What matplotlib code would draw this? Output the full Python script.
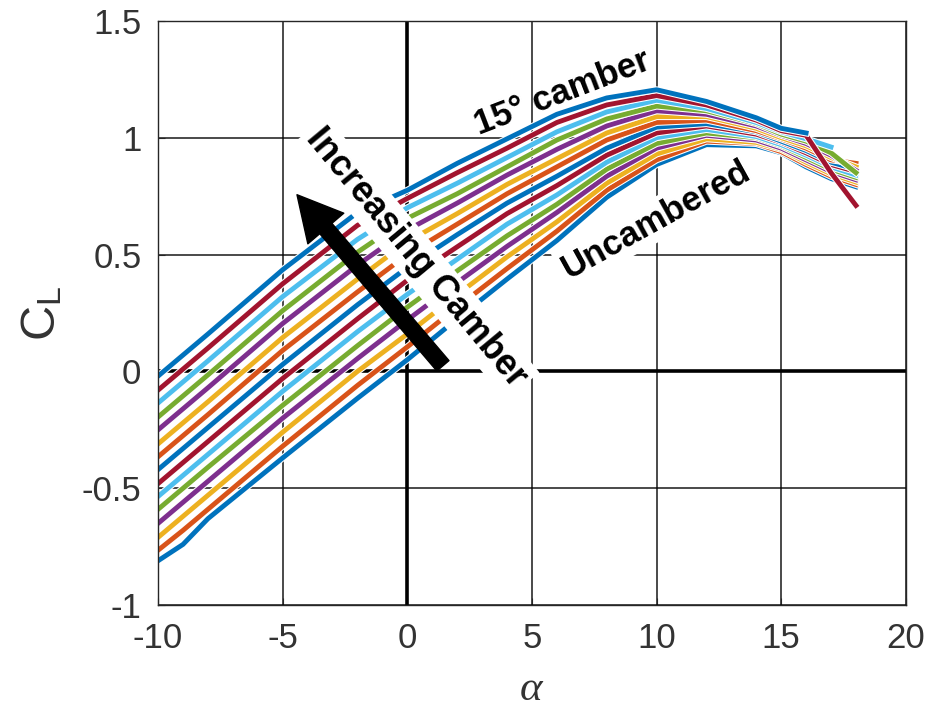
import numpy as np
import matplotlib
matplotlib.use("Agg")
import matplotlib.pyplot as plt
import matplotlib.patheffects as pe
from matplotlib.patches import FancyArrowPatch

# angle of attack (deg)
alpha = [-10, -9, -8, -5, -2, 0, 2, 4, 6, 8, 10, 12, 14, 15, 16, 17, 18]

# lift coefficient, one list per camber (bottom = uncambered, top = 15 deg camber)
cl_00 = [-0.81, -0.74, -0.63, -0.37, -0.115, 0.05, 0.225, 0.395, 0.56, 0.745, 0.885, 0.97, 0.965, 0.935, 0.875, 0.825, 0.79]
cl_01 = [-0.765, -0.68, -0.59, -0.32, -0.06, 0.105, 0.275, 0.44, 0.60, 0.775, 0.905, 0.985, 0.975, 0.94, 0.885, 0.835, 0.80]
cl_02 = [-0.71, -0.62, -0.53, -0.26, 0.0, 0.16, 0.328, 0.49, 0.64, 0.805, 0.93, 0.995, 0.98, 0.95, 0.895, 0.845, 0.81]
cl_03 = [-0.65, -0.56, -0.47, -0.20, 0.055, 0.22, 0.38, 0.535, 0.68, 0.835, 0.955, 1.01, 0.99, 0.955, 0.905, 0.855, 0.82]
cl_04 = [-0.59, -0.50, -0.41, -0.145, 0.11, 0.275, 0.43, 0.58, 0.715, 0.865, 0.975, 1.02, 1.0, 0.965, 0.915, 0.865, 0.83]
cl_05 = [-0.535, -0.445, -0.355, -0.085, 0.17, 0.33, 0.48, 0.63, 0.755, 0.895, 1.0, 1.035, 1.005, 0.97, 0.925, 0.875, 0.84]
cl_06 = [-0.48, -0.39, -0.30, -0.03, 0.225, 0.39, 0.533, 0.675, 0.795, 0.925, 1.02, 1.05, 1.015, 0.98, 0.935, 0.885, 0.855]
cl_07 = [-0.42, -0.33, -0.24, 0.03, 0.285, 0.445, 0.585, 0.72, 0.835, 0.955, 1.045, 1.06, 1.025, 0.985, 0.945, 0.895, 0.865]
cl_08 = [-0.365, -0.275, -0.185, 0.09, 0.34, 0.50, 0.63, 0.76, 0.875, 0.99, 1.065, 1.075, 1.03, 0.995, 0.955, 0.905, 0.89]
cl_09 = [-0.31, -0.22, -0.13, 0.145, 0.395, 0.555, 0.675, 0.80, 0.91, 1.02, 1.09, 1.09, 1.04, 1.0, 0.965, 0.915, 0.875]
cl_10 = [-0.25, -0.16, -0.07, 0.205, 0.455, 0.605, 0.72, 0.84, 0.95, 1.05, 1.115, 1.10, 1.05, 1.01, 0.975, 0.925, 0.86]
cl_11 = [-0.195, -0.105, -0.015, 0.26, 0.51, 0.655, 0.76, 0.875, 0.99, 1.08, 1.135, 1.115, 1.06, 1.015, 0.985, 0.935, 0.85]
cl_12 = [-0.135, -0.045, 0.045, 0.32, 0.565, 0.70, 0.805, 0.915, 1.025, 1.11, 1.16, 1.125, 1.065, 1.025, 0.995, 0.96, None]
cl_13 = [-0.08, 0.01, 0.10, 0.375, 0.625, 0.74, 0.85, 0.955, 1.065, 1.14, 1.18, 1.14, 1.075, 1.03, 1.01, 0.85, 0.71]
cl_14 = [-0.02, 0.07, 0.16, 0.435, 0.68, 0.775, 0.89, 0.995, 1.10, 1.17, 1.205, 1.155, 1.085, 1.04, 1.02, None, None]

curvas = [cl_00, cl_01, cl_02, cl_03, cl_04, cl_05, cl_06, cl_07,
          cl_08, cl_09, cl_10, cl_11, cl_12, cl_13, cl_14]

# cores por defeito do matlab
cores = ["#0072BD", "#D95319", "#EDB120", "#7E2F8E", "#77AC30", "#4DBEEE", "#A2142F"]

plt.rcParams["font.family"] = ["Liberation Sans", "DejaVu Sans"]
plt.rcParams["mathtext.fontset"] = "custom"
plt.rcParams["mathtext.rm"] = "Liberation Sans"
plt.rcParams["mathtext.it"] = "Liberation Serif:italic"

fig = plt.figure(figsize=(9.3, 7.17), dpi=100)
ax = fig.add_axes([0.170, 0.156, 0.804, 0.815])

ax.grid(True, color="black", linewidth=1.1, alpha=0.9)
ax.set_axisbelow(True)
ax.axhline(0, color="black", linewidth=2.6, zorder=1.5)
ax.axvline(0, color="black", linewidth=2.6, zorder=1.5)

halo = [pe.Stroke(linewidth=5.0, foreground="white"), pe.Normal()]
for i, cl in enumerate(curvas):
    y = np.array(cl, dtype=float)
    ax.plot(alpha, y, color=cores[i % len(cores)], linewidth=3.5,
            solid_joinstyle="round", path_effects=halo, zorder=2 + i * 0.01)

ax.set_xlim(-10, 20)
ax.set_ylim(-1, 1.5)
ax.set_xticks([-10, -5, 0, 5, 10, 15, 20])
ax.set_yticks([-1, -0.5, 0, 0.5, 1, 1.5])
ax.set_yticklabels(["-1", "-0.5", "0", "0.5", "1", "1.5"])
ax.set_xticklabels(["-10", "-5", "0", "5", "10", "15", "20"])
ax.tick_params(direction="in", length=5, labelsize=25, labelcolor="#333333",
               color="#262626", pad=12)
for s in ax.spines.values():
    s.set_color("#262626")
    s.set_linewidth(1.0)

ax.set_xlabel(r"$\alpha$", fontsize=31, color="#333333", labelpad=10)
ax.set_ylabel(r"C$_{\mathrm{L}}$", fontsize=35, color="#333333", labelpad=12)

# seta
seta = FancyArrowPatch((1.5, 0.015), (-4.5, 0.765),
                       arrowstyle="simple,head_length=3.2,head_width=3.4,tail_width=1.15",
                       mutation_scale=10, color="black", zorder=4)
ax.add_patch(seta)

caixa = dict(boxstyle="square,pad=0.12", fc="white", ec="none")
ax.text(0.35, 0.485, "Increasing Camber", rotation=-50.3, fontsize=26, fontweight="bold",
        ha="center", va="center", rotation_mode="anchor", bbox=caixa, zorder=5)
ax.text(6.2, 1.19, "15° camber", rotation=21, fontsize=25, fontweight="bold",
        ha="center", va="center", rotation_mode="anchor", zorder=5)
ax.text(10.0, 0.65, "Uncambered", rotation=29, fontsize=25, fontweight="bold",
        ha="center", va="center", rotation_mode="anchor", bbox=caixa, zorder=5)

fig.savefig("out.png", dpi=100, facecolor="white")
